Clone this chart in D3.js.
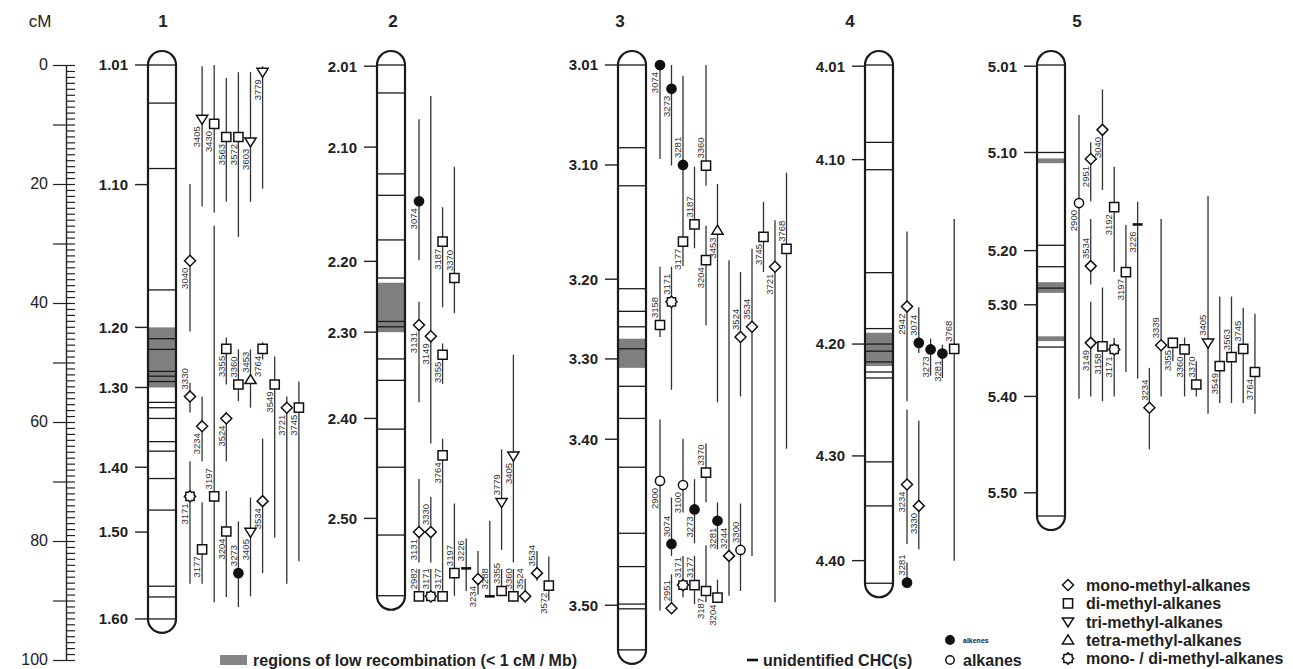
<!DOCTYPE html>
<html lang="en">
<head>
<meta charset="UTF-8">
<title>CHC QTL linkage map</title>
<script src="https://cdn.jsdelivr.net/npm/d3@7"></script>
<style>
  body { margin: 0; background: #fff; }
  svg { font-family: "Liberation Sans", Arial, Helvetica, sans-serif; }
  .chr-outline { fill: none; stroke: #1a1a1a; stroke-width: 2.2; }
  .marker { stroke: #1a1a1a; stroke-width: 1.3; }
  .low-rec { fill: #7f7f7f; }
  .mk-tick { stroke: #222; stroke-width: 1.4; }
  .mk-label { font-size: 15px; font-weight: bold; fill: #222; }
  .chr-name { font-size: 17px; font-weight: bold; fill: #222; }
  .qtl-line { stroke: #333; stroke-width: 1.3; }
  .sym { fill: #fff; stroke: #111; stroke-width: 1.5; }
  .sym.alkene { fill: #111; }
  .unid { stroke: #111; stroke-width: 2.6; }
  .qtl-label { font-size: 9.5px; fill: #333; }
  .legend text { font-size: 16px; font-weight: bold; fill: #222; }
  .ruler text { font-size: 16px; fill: #222; }
  .ruler line, .ruler path { stroke: #222; stroke-width: 1.2; }
</style>
</head>
<body>
<svg width="1293" height="669"></svg>
<script>
// ---- data (positions in cM) ----
const chrNames = ["1", "2", "3", "4", "5"];
const chrLength = [93.1, 89.2, 98.3, 87.1, 75.8];

// labelled markers left of each chromosome
const markerTicks = [
  ["1.01", 0], ["1.10", 20.1], ["1.20", 44.1], ["1.30", 54.2], ["1.40", 67.6], ["1.50", 78.5], ["1.60", 93.1],
  ["2.01", 0.2], ["2.10", 13.8], ["2.20", 33.0], ["2.30", 44.9], ["2.40", 59.4], ["2.50", 76.2],
  ["3.01", 0], ["3.10", 16.8], ["3.20", 36.0], ["3.30", 49.4], ["3.40", 62.9], ["3.50", 90.8],
  ["4.01", 0.2], ["4.10", 15.9], ["4.20", 46.9], ["4.30", 65.7], ["4.40", 83.3],
  ["5.01", 0.2], ["5.10", 14.7], ["5.20", 31.2], ["5.30", 40.3], ["5.40", 55.7], ["5.50", 71.9]
];

// all marker positions drawn inside the chromosomes
const markers1 = [6.4, 17.4, 37.8, 46.0, 47.8, 51.5, 52.3, 53.2, 56.7, 57.6, 59.4, 63.3, 64.9, 69.5, 74.8, 87.6, 89.4];
const markers2 = [4.7, 18.3, 21.9, 29.4, 35.8, 43.1, 44.0, 49.4, 53.0, 61.2, 67.6, 79.0];
const markers3 = [13.9, 20.3, 37.6, 41.4, 44.0, 47.7, 54.0, 59.4, 67.6, 78.7, 84.3, 90.6, 91.4];
const markers4 = [13.0, 17.6, 34.9, 44.3, 46.9, 48.1, 49.9, 51.6, 52.6, 66.7, 74.1];
const markers5 = [14.7, 30.3, 33.9, 37.5, 47.4];

// regions of low recombination: [chromosome, from cM, to cM]
const lowRec = [
  ["1", 44.1, 54.2], ["2", 36.6, 44.9], ["3", 46.0, 50.9], ["4", 45.0, 50.6],
  ["5", 15.7, 16.5], ["5", 36.5, 38.3], ["5", 45.6, 46.4]
];

// QTL: [track, trait, class, CI low, peak, CI high, label above symbol]
const qtl1 = [
  [0, "3040", "mono", 20.0, 32.9, 44.8, 0], [0, "3330", "mono", 53.4, 55.7, 58.4, 1],
  [0, "3171", "monodi", 66.6, 72.5, 87.2, 0], [1, "3405", "tri", 0.2, 9.1, 23.8, 0],
  [1, "3234", "mono", 55.7, 60.7, 66.6, 0], [1, "3177", "di", 73.5, 81.4, 87.2, 0],
  [2, "3430", "di", 0, 9.9, 24.8, 0], [2, "3197", "di", 27.0, 72.5, 90.3, 1],
  [3, "3563", "di", 2.2, 12.1, 23.0, 0], [3, "3355", "di", 45.8, 47.7, 53.7, 0],
  [3, "3524", "mono", 58.4, 59.4, 66.6, 0], [3, "3204", "di", 71.6, 78.4, 89.4, 0],
  [4, "3572", "di", 1.2, 12.1, 28.9, 0], [4, "3360", "di", 47.8, 53.7, 56.5, 1],
  [4, "3273", "alkene", 76.7, 85.4, 91.1, 1], [5, "3603", "tri", 1.2, 12.9, 23.0, 0],
  [5, "3453", "tetra", 47.8, 52.9, 57.6, 1], [5, "3405", "tri", 72.7, 78.5, 89.3, 0],
  [6, "3779", "tri", 0.2, 1.2, 20.8, 0], [6, "3764", "di", 46.6, 47.7, 49.5, 0],
  [6, "3534", "mono", 62.8, 73.3, 85.4, 0], [7, "3549", "di", 49.0, 53.7, 79.4, 0],
  [8, "3721", "mono", 55.7, 57.6, 87.2, 0], [9, "3745", "di", 53.2, 57.6, 83.4, 0]
];
const qtl2 = [
  [0, "3074", "alkene", 9.1, 22.9, 32.8, 0], [0, "3131", "mono", 39.8, 43.7, 56.7, 0],
  [0, "3131", "mono", 69.6, 78.5, 83.6, 0], [0, "2982", "di", 84.7, 89.3, 89.3, 1],
  [1, "3149", "mono", 5.2, 45.6, 63.6, 0], [1, "3330", "mono", 72.6, 78.5, 83.6, 1],
  [1, "3171", "monodi", 84.7, 89.3, 89.3, 1], [2, "3187", "di", 23.9, 29.7, 40.7, 0],
  [2, "3355", "di", 46.8, 48.7, 53.6, 0], [2, "3764", "di", 62.8, 65.6, 83.4, 0],
  [2, "3177", "di", 83.4, 89.3, 89.3, 1], [3, "3370", "di", 17.1, 35.8, 41.7, 1],
  [3, "3197", "di", 73.7, 85.4, 89.2, 1], [4, "3226", "unid", 79.6, 84.6, 88.4, 1],
  [5, "3234", "mono", 81.7, 86.4, 89.0, 0], [6, "3288", "unid", 76.6, 89.3, 89.3, 1],
  [7, "3779", "tri", 64.6, 73.5, 81.5, 1], [7, "3355", "di", 84.7, 88.4, 88.4, 1],
  [8, "3405", "tri", 48.7, 65.7, 83.6, 0], [8, "3360", "di", 84.7, 89.3, 89.3, 1],
  [9, "3524", "mono", 86.4, 89.3, 89.3, 1], [10, "3534", "mono", 81.7, 85.4, 86.7, 1],
  [11, "3572", "di", 82.6, 87.5, 90.0, 0]
];
const qtl3 = [
  [0, "3074", "alkene", 0, 0, 15.8, 0], [0, "3158", "di", 33.9, 43.7, 45.7, 1],
  [0, "2900", "alkane", 59.6, 69.9, 91.7, 0], [1, "3273", "alkene", 0, 4.0, 16.9, 0],
  [1, "3171", "monodi", 33.9, 39.8, 54.6, 1], [1, "3074", "alkene", 72.7, 80.5, 82.5, 1],
  [1, "2951", "mono", 85.6, 91.3, 91.3, 1], [2, "3281", "alkene", 1.8, 16.8, 22.7, 1],
  [2, "3177", "di", 22.7, 29.7, 33.8, 0], [2, "3100", "alkane", 62.8, 70.6, 75.2, 0],
  [2, "3171", "monodi", 82.5, 87.4, 89.5, 1], [3, "3187", "di", 17.1, 26.8, 30.8, 1],
  [3, "3273", "alkene", 69.6, 74.7, 80.4, 0], [3, "3177", "di", 82.5, 87.4, 90.6, 1],
  [4, "3360", "di", 0, 16.9, 20.3, 1], [4, "3204", "di", 27.0, 32.8, 43.8, 0],
  [4, "3370", "di", 63.6, 68.5, 73.5, 1], [4, "3187", "di", 80.7, 88.4, 90.3, 0],
  [5, "3453", "tetra", 20.0, 27.8, 56.7, 0], [5, "3281", "alkene", 73.5, 76.6, 81.4, 0],
  [5, "3204", "di", 86.5, 89.5, 90.3, 0], [6, "3244", "mono", 32.8, 82.5, 89.2, 1],
  [7, "3524", "mono", 34.8, 45.7, 55.7, 1], [7, "3300", "alkane", 73.7, 81.5, 88.4, 1],
  [8, "3534", "mono", 30.9, 44.0, 82.5, 1], [9, "3745", "di", 23.0, 28.9, 34.8, 0],
  [10, "3721", "mono", 26.1, 33.9, 90.3, 0], [11, "3768", "di", 18.1, 30.9, 64.5, 1]
];
const qtl4 = [
  [0, "2942", "mono", 28.0, 40.6, 56.5, 0], [0, "3234", "mono", 57.9, 70.5, 80.5, 0],
  [0, "3281", "alkene", 83.6, 87.0, 87.0, 1], [1, "3074", "alkene", 40.7, 46.7, 48.4, 1],
  [1, "3330", "mono", 59.8, 74.1, 81.4, 0], [2, "3273", "alkene", 46.0, 47.8, 52.2, 0],
  [3, "3281", "alkene", 47.0, 48.5, 52.6, 0], [4, "3768", "di", 25.9, 47.7, 83.3, 1]
];
const qtl5 = [
  [0, "2900", "alkane", 8.4, 23.2, 56.1, 0], [1, "2951", "mono", 13.0, 15.8, 22.9, 0],
  [1, "3534", "mono", 25.9, 33.8, 36.9, 1], [1, "3149", "mono", 39.8, 46.7, 55.7, 0],
  [2, "3040", "mono", 4.1, 10.9, 21.0, 0], [2, "3158", "di", 37.4, 47.3, 56.5, 0],
  [3, "3192", "di", 17.1, 23.9, 34.8, 0], [3, "3171", "monodi", 45.9, 47.8, 55.7, 0],
  [4, "3197", "di", 26.9, 34.8, 51.6, 0], [5, "3226", "unid", 23.0, 26.8, 52.7, 0],
  [6, "3234", "mono", 50.9, 57.6, 64.6, 1], [7, "3339", "mono", 25.9, 47.1, 55.7, 1],
  [8, "3355", "di", 45.9, 46.7, 49.8, 0], [9, "3360", "di", 45.8, 47.8, 55.7, 0],
  [10, "3370", "di", 49.8, 53.7, 55.7, 1], [11, "3405", "tri", 22.0, 46.7, 58.6, 1],
  [12, "3549", "di", 38.9, 50.6, 56.8, 0], [13, "3563", "di", 38.9, 49.1, 56.8, 1],
  [14, "3745", "di", 40.8, 47.7, 56.8, 1], [15, "3764", "di", 41.8, 51.6, 58.6, 0]
];

const classLegend = [
  ["mono", "mono-methyl-alkanes"], ["di", "di-methyl-alkanes"], ["tri", "tri-methyl-alkanes"],
  ["tetra", "tetra-methyl-alkanes"], ["monodi", "mono- / di-methyl-alkanes"]
];

// ---- layout ----
const svg = d3.select("svg");
const y = d3.scaleLinear().domain([0, 100]).range([65, 660]);
const chrX = d3.scaleOrdinal().domain(chrNames).range([148, 377, 618, 865, 1037]);
const nameX = d3.scaleOrdinal().domain(chrNames).range([163, 393, 620, 850, 1077]);
const trackStep = d3.scaleOrdinal().domain(chrNames).range([12.1, 11.8, 11.5, 11.8, 11.73]);
const chrW = 28, cap = 14;

const markerSets = [markers1, markers2, markers3, markers4, markers5];
const qtlSets = [qtl1, qtl2, qtl3, qtl4, qtl5];

// cM ruler
const ruler = svg.append("g").attr("class", "ruler").attr("transform", "translate(66,0)");
ruler.call(d3.axisLeft(y).tickValues(d3.range(0, 101, 10)).tickSize(13).tickSizeOuter(0)
  .tickPadding(5).tickFormat(d => d % 20 === 0 ? d : ""));
ruler.append("g").call(d3.axisRight(y).tickValues(d3.range(0, 101, 1)).tickSize(9)
  .tickSizeOuter(0).tickFormat(""));
ruler.attr("font-size", null).attr("font-family", null);
ruler.selectAll("text").attr("fill", "#222").attr("dy", "0.3em");
svg.append("text").attr("x", 40).attr("y", 27).attr("text-anchor", "middle")
  .style("font-size", "17px").style("fill", "#222").text("cM");

// symbols
const symPath = {
  mono: "M0,-5.5L5.5,0L0,5.5L-5.5,0Z",
  di: "M-4.6,-4.6H4.6V4.6H-4.6Z",
  tri: "M-5.6,-3.8L5.6,-3.8L0,5.2Z",
  tetra: "M0,-5.2L5.6,3.8L-5.6,3.8Z",
  // outline of a square and a diamond laid over each other
  monodi: "M0,-5.6L1.5,-4.1H4.1V-1.5L5.6,0L4.1,1.5V4.1H1.5L0,5.6L-1.5,4.1H-4.1V1.5" +
          "L-5.6,0L-4.1,-1.5V-4.1H-1.5Z"
};
function drawSymbol(g, type) {
  if (type === "alkene" || type === "alkane") {
    g.append("circle").attr("class", "sym " + type).attr("r", 4.6);
  } else if (type === "unid") {
    g.append("line").attr("class", "unid").attr("x1", -5).attr("x2", 5);
  } else {
    g.append("path").attr("class", "sym").attr("d", symPath[type]);
  }
}

chrNames.forEach((c, i) => {
  const x0 = chrX(c), x1 = x0 + chrW;
  const top = y(0), bot = y(chrLength[i]);
  const g = svg.append("g").attr("class", "chromosome");

  g.append("text").attr("class", "chr-name").attr("x", nameX(c)).attr("y", 27)
    .attr("text-anchor", "middle").text(c);

  g.selectAll("rect.low-rec").data(lowRec.filter(d => d[0] === c)).join("rect")
    .attr("class", "low-rec").attr("x", x0).attr("width", chrW)
    .attr("y", d => y(d[1])).attr("height", d => y(d[2]) - y(d[1]));

  g.selectAll("line.marker").data([0, ...markerSets[i], chrLength[i]]).join("line")
    .attr("class", "marker").attr("x1", x0).attr("x2", x1)
    .attr("y1", d => y(d)).attr("y2", d => y(d));

  g.append("path").attr("class", "chr-outline")
    .attr("d", `M${x0},${top}L${x0},${bot}A${cap},${cap} 0 0 0 ${x1},${bot}` +
               `L${x1},${top}A${cap},${cap} 0 0 0 ${x0},${top}Z`);

  const ticks = markerTicks.filter(d => d[0].split(".")[0] === c);
  g.selectAll("line.mk-tick").data(ticks).join("line").attr("class", "mk-tick")
    .attr("x1", x0 - 13).attr("x2", x0).attr("y1", d => y(d[1])).attr("y2", d => y(d[1]));
  g.selectAll("text.mk-label").data(ticks).join("text").attr("class", "mk-label")
    .attr("x", x0 - 20).attr("y", d => y(d[1])).attr("dy", "0.36em")
    .attr("text-anchor", "end").text(d => d[0]);

  // QTL tracks
  const tx = d => x1 + 14 + d[0] * trackStep(c);
  const q = qtlSets[i];
  g.selectAll("line.qtl-line").data(q).join("line").attr("class", "qtl-line")
    .attr("x1", tx).attr("x2", tx).attr("y1", d => y(d[3])).attr("y2", d => y(d[5]));
  g.selectAll("g.qtl-sym").data(q).join("g").attr("class", "qtl-sym")
    .attr("transform", d => `translate(${tx(d)},${y(d[4])})`)
    .each(function (d) { drawSymbol(d3.select(this), d[2]); });
  g.selectAll("text.qtl-label").data(q).join("text").attr("class", "qtl-label")
    .attr("transform", d => `translate(${tx(d) - 1.8},${y(d[4]) + (d[6] ? -7 : 7)}) rotate(-90)`)
    .attr("text-anchor", d => d[6] ? "start" : "end").text(d => d[1]);
});

// ---- legends ----
const leg = svg.append("g").attr("class", "legend");
leg.append("rect").attr("x", 220).attr("y", 655).attr("width", 27).attr("height", 10).attr("fill", "#858585");
leg.append("text").attr("x", 253).attr("y", 666).text("regions of low recombination (< 1 cM / Mb)");

leg.append("line").attr("class", "unid").attr("x1", 747).attr("x2", 758).attr("y1", 660).attr("y2", 660);
leg.append("text").attr("x", 763).attr("y", 666).text("unidentified CHC(s)");

leg.append("circle").attr("class", "sym alkene").attr("cx", 950).attr("cy", 640).attr("r", 4.2);
leg.append("text").attr("x", 963).attr("y", 643).style("font-size", "7px").text("alkenes");
leg.append("circle").attr("class", "sym").attr("cx", 950).attr("cy", 660).attr("r", 4.2);
leg.append("text").attr("x", 963).attr("y", 666).text("alkanes");

const rowY = d3.scalePoint().domain(classLegend.map(d => d[0])).range([585, 658.5]);
classLegend.forEach(d => {
  const g = leg.append("g").attr("transform", `translate(1068,${rowY(d[0])})`);
  drawSymbol(g, d[0]);
  leg.append("text").attr("x", 1086).attr("y", rowY(d[0])).attr("dy", "0.36em").text(d[1]);
});
</script>
</body>
</html>
